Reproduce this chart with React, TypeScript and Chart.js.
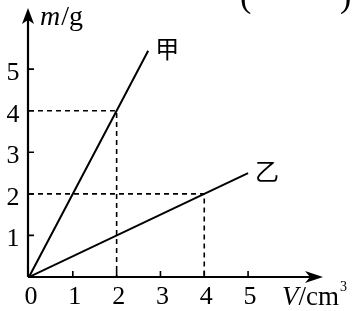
import React, { useEffect, useRef } from "react";
import { Chart, registerables } from "chart.js";

Chart.register(...registerables);

// data
const jiaV = [0, 2, 2.72];
const jiaM = [0, 4, 5.44];
const yiV = [0, 4, 5];
const yiM = [0, 2, 2.5];
const guideJiaV = [0, 2, 2];
const guideJiaM = [4, 4, 0];
const guideYiV = [0, 4, 4];
const guideYiM = [2, 2, 0];
const xTicks = [0, 1, 2, 3, 4, 5];
const yTicks = [1, 2, 3, 4, 5];
const seriesNames = ["甲", "乙"];
const X_MAX = 6.71;
const Y_MAX = 6.47;

const SERIF = "'Liberation Serif', 'Times New Roman', serif";
const CJK = "'Noto Sans CJK SC', sans-serif";

const pts = (xs: number[], ys: number[]) => xs.map((x, i) => ({ x, y: ys[i] }));

const axesPlugin = {
  id: "physAxes",
  afterDatasetsDraw(chart: any) {
    const ctx = chart.ctx as CanvasRenderingContext2D;
    const xs = chart.scales.x;
    const ys = chart.scales.y;
    const x0 = xs.getPixelForValue(0);
    const y0 = ys.getPixelForValue(0);
    const xEnd = xs.getPixelForValue(X_MAX);
    const yTop = ys.getPixelForValue(Y_MAX);
    ctx.save();
    ctx.strokeStyle = "#000";
    ctx.fillStyle = "#000";
    ctx.lineWidth = 2.2;
    ctx.setLineDash([]);
    // axes
    ctx.beginPath();
    ctx.moveTo(x0 - 1, y0);
    ctx.lineTo(xEnd - 8, y0);
    ctx.moveTo(x0 - 1, y0);
    ctx.lineTo(x0 - 1, yTop + 8);
    ctx.stroke();
    // arrow heads
    ctx.beginPath();
    ctx.moveTo(x0 - 1, yTop);
    ctx.lineTo(x0 - 7, yTop + 16);
    ctx.lineTo(x0 - 1, yTop + 12);
    ctx.lineTo(x0 + 5, yTop + 16);
    ctx.closePath();
    ctx.fill();
    ctx.beginPath();
    ctx.moveTo(xEnd, y0);
    ctx.lineTo(xEnd - 18, y0 - 6);
    ctx.lineTo(xEnd - 13, y0);
    ctx.lineTo(xEnd - 18, y0 + 6);
    ctx.closePath();
    ctx.fill();
    // ticks
    ctx.lineWidth = 1.6;
    ctx.beginPath();
    xTicks.forEach((t) => {
      if (t === 0) return;
      const px = xs.getPixelForValue(t);
      ctx.moveTo(px, y0);
      ctx.lineTo(px, y0 - 6);
    });
    yTicks.forEach((t) => {
      const py = ys.getPixelForValue(t);
      ctx.moveTo(x0 - 1, py);
      ctx.lineTo(x0 + 5, py);
    });
    ctx.stroke();
    // tick labels
    ctx.font = `26px ${SERIF}`;
    ctx.textAlign = "center";
    ctx.textBaseline = "alphabetic";
    xTicks.forEach((t) => {
      ctx.fillText(String(t), xs.getPixelForValue(t) + 2, y0 + 27);
    });
    yTicks.forEach((t) => {
      ctx.fillText(String(t), 13, ys.getPixelForValue(t) + 11);
    });
    // axis titles
    ctx.textAlign = "left";
    ctx.font = `italic 28px ${SERIF}`;
    ctx.fillText("m", x0 + 11, yTop + 17);
    let w = ctx.measureText("m").width;
    ctx.font = `28px ${SERIF}`;
    ctx.fillText("/g", x0 + 11 + w + 1, yTop + 17);

    ctx.font = `italic 27px ${SERIF}`;
    ctx.fillText("V", 282, y0 + 28);
    w = ctx.measureText("V").width;
    ctx.font = `27px ${SERIF}`;
    ctx.fillText("/cm", 282 + w, y0 + 28);
    const w2 = ctx.measureText("/cm").width;
    ctx.font = `14px ${SERIF}`;
    ctx.fillText("3", 282 + w + w2 + 1, y0 + 14);

    // series labels
    ctx.font = `24px ${CJK}`;
    ctx.textAlign = "center";
    ctx.textBaseline = "middle";
    const ends = [
      [jiaV[jiaV.length - 1], jiaM[jiaM.length - 1]],
      [yiV[yiV.length - 1], yiM[yiM.length - 1]],
    ];
    ends.forEach(([v, m], i) => {
      ctx.fillText(seriesNames[i], xs.getPixelForValue(v) + 19, ys.getPixelForValue(m) - 2);
    });

    // parentheses of the question
    ctx.font = `34px ${SERIF}`;
    ctx.textAlign = "left";
    ctx.textBaseline = "alphabetic";
    ctx.fillText("(", 240, 7);
    ctx.fillText(")", 340, 7);
    ctx.restore();
  },
};

export default function App() {
  const ref = useRef<HTMLCanvasElement | null>(null);
  useEffect(() => {
    if (!ref.current) return;
    const solid = { borderColor: "#000", borderWidth: 2, pointRadius: 0, showLine: true, fill: false, tension: 0 };
    const dashed = { borderColor: "#000", borderWidth: 1.6, borderDash: [5, 4], pointRadius: 0, showLine: true, fill: false, tension: 0 };
    const chart = new Chart(ref.current, {
      type: "scatter",
      data: {
        datasets: [
          { ...dashed, label: "g1", data: pts(guideJiaV, guideJiaM) },
          { ...dashed, label: "g2", data: pts(guideYiV, guideYiM) },
          { ...solid, label: seriesNames[0], data: pts(jiaV, jiaM) },
          { ...solid, label: seriesNames[1], data: pts(yiV, yiM) },
        ],
      },
      options: {
        animation: false,
        responsive: false,
        devicePixelRatio: 1,
        layout: { padding: { left: 29, right: 34, top: 8, bottom: 34 } },
        plugins: { legend: { display: false }, tooltip: { enabled: false } },
        scales: {
          x: { type: "linear", min: 0, max: X_MAX, display: false },
          y: { type: "linear", min: 0, max: Y_MAX, display: false },
        },
      },
      plugins: [axesPlugin],
    } as any);
    return () => chart.destroy();
  }, []);
  return (
    <div style={{ position: "absolute", left: 0, top: 0, width: 357, height: 311, background: "#fff" }}>
      <canvas ref={ref} width={357} height={311} style={{ display: "block" }} />
    </div>
  );
}
